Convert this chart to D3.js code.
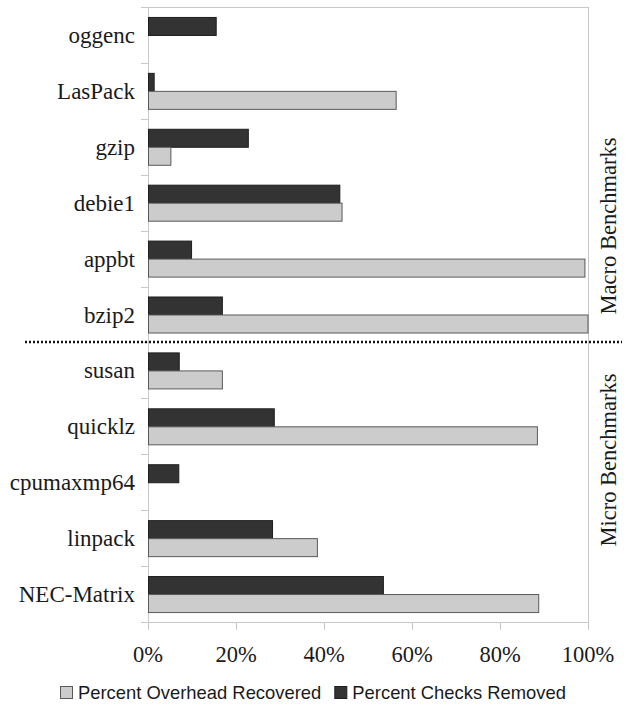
<!DOCTYPE html>
<html>
<head>
<meta charset="utf-8">
<script src="https://cdn.jsdelivr.net/npm/d3@7"></script>
<style>
  body { margin: 0; background: #fff; }
  svg { display: block; }
  .cat-label { font-family: "Liberation Serif", "Times New Roman", serif; font-size: 23px; fill: #1a1a1a; }
  .tick-label { font-family: "Liberation Serif", "Times New Roman", serif; font-size: 22.5px; fill: #1a1a1a; }
  .group-label { font-family: "Liberation Serif", "Times New Roman", serif; font-size: 22.5px; fill: #1a1a1a; }
  .legend-text { font-family: "Liberation Sans", Arial, sans-serif; font-size: 18.4px; fill: #1a1a1a; }
</style>
</head>
<body>
<div id="chart"></div>
<script>
// benchmarks, top to bottom
const BENCHMARKS = ["oggenc", "LasPack", "gzip", "debie1", "appbt", "bzip2",
                    "susan", "quicklz", "cpumaxmp64", "linpack", "NEC-Matrix"];
// percent values
const CHECKS_REMOVED    = [15.5, 1.4, 22.8, 43.6, 9.9, 16.9, 7.1, 28.7, 7.0, 28.3, 53.5];
const OVERHEAD_RECOVERED = [0, 56.4, 5.2, 44.1, 99.3, 100, 16.9, 88.5, 0, 38.5, 88.8];
const SERIES = ["checks", "overhead"];
const SERIES_NAMES = { overhead: "Percent Overhead Recovered", checks: "Percent Checks Removed" };
const LEGEND_ORDER = ["overhead", "checks"];
const X_TICKS = [0, 20, 40, 60, 80, 100];
const GROUPS = [
  { name: "Macro Benchmarks", first: "oggenc", last: "bzip2" },
  { name: "Micro Benchmarks", first: "susan", last: "NEC-Matrix" }
];

const FILL = { checks: "#333333", overhead: "#cccccc" };
const EDGE = { checks: "#1e1e1e", overhead: "#5a5a5a" };

const W = 632, H = 706;
const margin = { left: 148, top: 7, right: 44, bottom: 84 };
const iw = W - margin.left - margin.right;   // 440
const ih = H - margin.top - margin.bottom;   // 615

const svg = d3.select("#chart").append("svg").attr("width", W).attr("height", H);
const g = svg.append("g").attr("transform", `translate(${margin.left},${margin.top})`);

const x = d3.scaleLinear().domain([0, 100]).range([0, iw]);
const y = d3.scaleBand().domain(BENCHMARKS).range([0, ih]).paddingInner(0.356).paddingOuter(0.178);
const ySub = d3.scaleBand().domain(SERIES).range([0, y.bandwidth()]);

const rows = BENCHMARKS.map((b, i) => ({ name: b, checks: CHECKS_REMOVED[i], overhead: OVERHEAD_RECOVERED[i] }));

const gridColor = "#c8c8c8";
const step = y.step();

// frame: top and right border
g.append("line").attr("x1", -7).attr("x2", iw).attr("y1", 0.5).attr("y2", 0.5).attr("stroke", gridColor);
g.append("line").attr("x1", iw + 0.5).attr("x2", iw + 0.5).attr("y1", 0).attr("y2", ih + 8).attr("stroke", gridColor);

// y axis with ticks between categories
g.append("line").attr("x1", 0.5).attr("x2", 0.5).attr("y1", 0).attr("y2", ih + 8).attr("stroke", gridColor);
g.selectAll("line.ybound").data(d3.range(BENCHMARKS.length + 1)).enter().append("line")
  .attr("class", "ybound")
  .attr("x1", -7).attr("x2", 0)
  .attr("y1", i => Math.round(i * step) + 0.5).attr("y2", i => Math.round(i * step) + 0.5)
  .attr("stroke", gridColor);

// x axis
g.append("line").attr("x1", 0).attr("x2", iw).attr("y1", ih + 0.5).attr("y2", ih + 0.5).attr("stroke", gridColor);
g.selectAll("line.xtick").data(X_TICKS).enter().append("line")
  .attr("class", "xtick")
  .attr("x1", d => Math.round(x(d)) + 0.5).attr("x2", d => Math.round(x(d)) + 0.5)
  .attr("y1", ih).attr("y2", ih + 8)
  .attr("stroke", gridColor);
g.selectAll("text.tick-label").data(X_TICKS).enter().append("text")
  .attr("class", "tick-label")
  .attr("x", d => x(d)).attr("y", ih + 40)
  .attr("text-anchor", "middle")
  .text(d => d + "%");

// bars
const rowG = g.selectAll("g.row").data(rows).enter().append("g")
  .attr("class", "row")
  .attr("transform", d => `translate(0,${y(d.name)})`);

rowG.selectAll("rect").data(d => SERIES.map(s => ({ key: s, value: d[s] })).filter(v => v.value > 0))
  .enter().append("rect")
  .attr("x", 0.5)
  .attr("y", d => ySub(d.key) + 0.5)
  .attr("width", d => Math.max(0, x(d.value) - 0.5))
  .attr("height", ySub.bandwidth())
  .attr("fill", d => FILL[d.key])
  .attr("stroke", d => EDGE[d.key])
  .attr("stroke-width", 1);

// category labels
g.selectAll("text.cat-label").data(BENCHMARKS).enter().append("text")
  .attr("class", "cat-label")
  .attr("x", -13)
  .attr("y", d => y(d) + y.bandwidth() / 2)
  .attr("dy", "0.35em")
  .attr("text-anchor", "end")
  .text(d => d);

// dotted divider between macro and micro groups
const splitY = Math.round(y(GROUPS[1].first) - y.step() * y.paddingInner() / 2);
svg.append("line")
  .attr("x1", 25).attr("x2", 622)
  .attr("y1", margin.top + splitY).attr("y2", margin.top + splitY)
  .attr("stroke", "#111").attr("stroke-width", 2.5)
  .attr("stroke-dasharray", "2,2");

// group labels on the right, rotated
const groupCenters = [226, 460];
svg.selectAll("text.group-label").data(GROUPS).enter().append("text")
  .attr("class", "group-label")
  .attr("transform", (d, i) => `translate(616,${groupCenters[i]}) rotate(-90)`)
  .attr("text-anchor", "middle")
  .text(d => d.name);

// legend
const legend = svg.append("g").attr("transform", "translate(60,693)");
let lx = 0;
LEGEND_ORDER.forEach(k => {
  const it = legend.append("g").attr("transform", `translate(${lx},0)`);
  it.append("rect").attr("x", 0.5).attr("y", -6.5).attr("width", 12).attr("height", 12)
    .attr("fill", FILL[k]).attr("stroke", EDGE[k]);
  const t = it.append("text").attr("class", "legend-text")
    .attr("x", 18).attr("y", 0).attr("dy", "0.35em")
    .text(SERIES_NAMES[k]);
  lx += 18 + t.node().getComputedTextLength() + 13;
});
</script>
</body>
</html>
